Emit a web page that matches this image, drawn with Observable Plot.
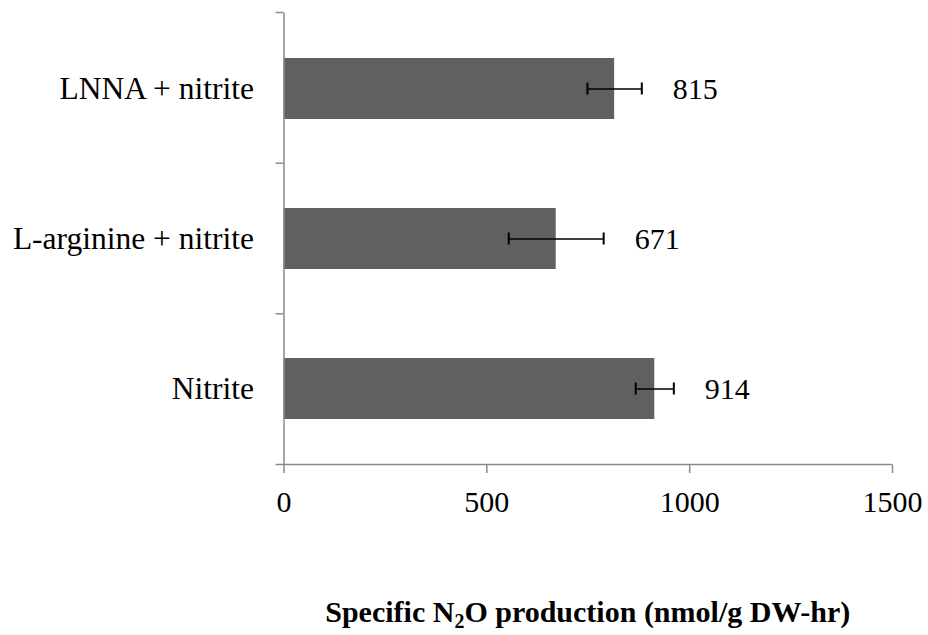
<!DOCTYPE html>
<html>
<head>
<meta charset="utf-8">
<script src="https://cdn.jsdelivr.net/npm/d3@7"></script>
<script src="https://cdn.jsdelivr.net/npm/@observablehq/plot@0.6"></script>
<style>
  html, body { margin: 0; padding: 0; background: #fff; }
  svg text { font-family: "Liberation Serif", "Times New Roman", serif !important; }
</style>
</head>
<body>
<div id="chart"></div>
<script>
const categories = ["LNNA + nitrite", "L-arginine + nitrite", "Nitrite"];
const values = [815, 671, 914];
const errors = [67, 117, 47];
const xTicks = [0, 500, 1000, 1500];
const xDomain = [0, 1500];
const axisTitleMain = ["Specific N", "2", "O production (nmol/g DW-hr)"];

const data = categories.map((c, i) => ({cat: c, value: values[i], err: errors[i]}));

const W = 928, H = 635, mt = 12.5, mb = 170.5, ml = 283.5, mr = 36;
const axisColor = "#8a8a8a";
const font = "Liberation Serif, Times New Roman, serif";

const axisFrame = (index, scales, values, dims) => {
  const g = d3.create("svg:g")
    .attr("stroke", axisColor)
    .attr("stroke-width", 1.5)
    .attr("fill", "none");
  const x0 = scales.x(xDomain[0]);
  const x1 = scales.x(xDomain[1]);
  const top = dims.marginTop;
  const bottom = dims.height - dims.marginBottom;
  g.append("line").attr("x1", x0 - 8).attr("x2", x1).attr("y1", bottom).attr("y2", bottom);
  const step = (bottom - top) / categories.length;
  for (let i = 0; i < categories.length; i++) {
    const yy = top + i * step;
    g.append("line").attr("x1", x0 - 8).attr("x2", x0).attr("y1", yy).attr("y2", yy);
  }
  return g.node();
};

const plot = Plot.plot({
  width: W,
  height: H,
  marginTop: mt,
  marginBottom: mb,
  marginLeft: ml,
  marginRight: mr,
  style: {fontFamily: font, fontSize: "30px", color: "#000", background: "#fff", overflow: "visible"},
  x: {domain: xDomain},
  y: {domain: categories, paddingInner: 0.595, paddingOuter: 0.2975},
  marks: [
    Plot.barX(data, {x: "value", y: "cat", fill: "#606060"}),
    Plot.ruleY(data, {y: "cat", x1: d => d.value - d.err, x2: d => d.value + d.err, stroke: "#000", strokeWidth: 1.6}),
    Plot.tickX(data, {x: d => d.value - d.err, y: "cat", insetTop: 24.5, insetBottom: 24.5, stroke: "#000", strokeWidth: 2}),
    Plot.tickX(data, {x: d => d.value + d.err, y: "cat", insetTop: 24.5, insetBottom: 24.5, stroke: "#000", strokeWidth: 2}),
    Plot.ruleX([0], {stroke: axisColor, strokeWidth: 1.5}),
    axisFrame,
    Plot.axisX({ticks: xTicks, tickSize: 8.5, tickPadding: 17, tickFormat: d => String(d), stroke: axisColor, strokeWidth: 1.5, label: null, fontSize: 30, fontFamily: font, fill: "#000"}),
    Plot.axisY({tickSize: 0, tickPadding: 30, label: null, fontSize: 31.5, fontFamily: font, fill: "#000"}),
    Plot.text(data, {x: d => d.value + d.err, y: "cat", text: d => String(d.value), textAnchor: "start", dx: 31, fontSize: 30, fontFamily: font, fill: "#000"})
  ]
});

const xs = plot.scale("x");
const cx = (xs.apply(xDomain[0]) + xs.apply(xDomain[1])) / 2;
const t = d3.select(plot).append("text")
  .attr("x", cx)
  .attr("y", 622)
  .attr("text-anchor", "middle")
  .attr("font-family", font)
  .attr("font-size", 30)
  .attr("font-weight", "bold")
  .attr("fill", "#000");
t.append("tspan").text(axisTitleMain[0]);
t.append("tspan").attr("font-size", 20).attr("dy", 6).text(axisTitleMain[1]);
t.append("tspan").attr("dy", -6).text(axisTitleMain[2]);

document.getElementById("chart").appendChild(plot);
</script>
</body>
</html>
